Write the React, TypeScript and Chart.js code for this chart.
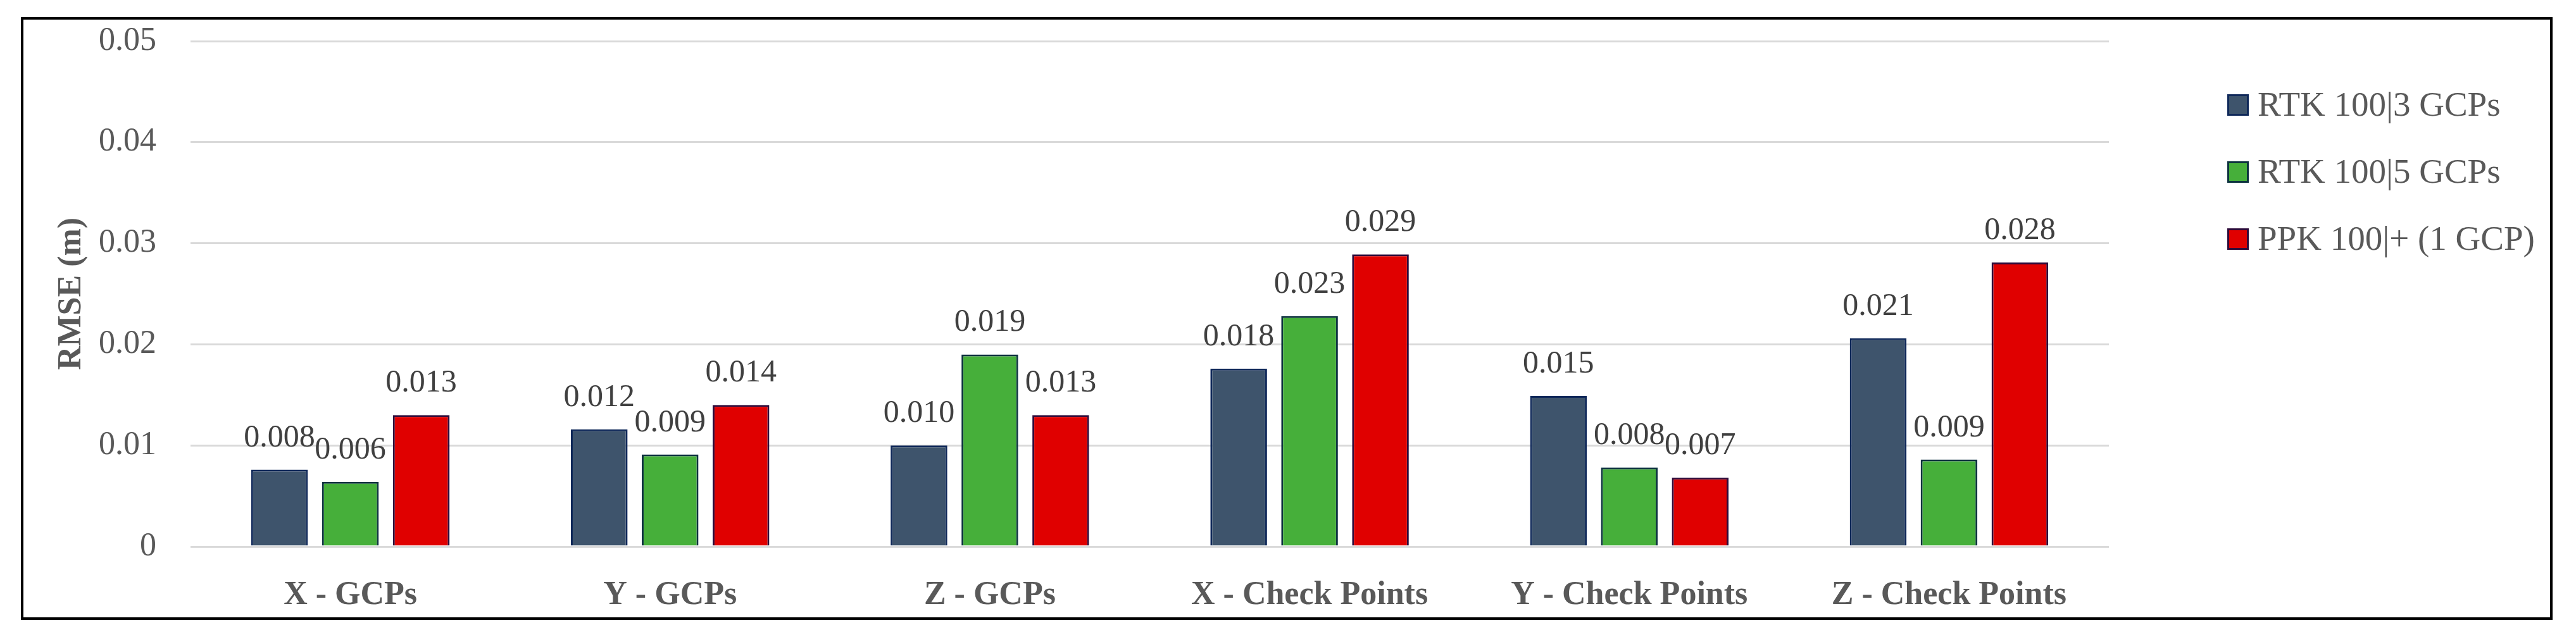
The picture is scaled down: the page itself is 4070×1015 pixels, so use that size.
import React, { useEffect, useRef } from 'react';
import { Chart, registerables } from 'chart.js';

Chart.register(...registerables);

const categories = ['X - GCPs', 'Y - GCPs', 'Z - GCPs', 'X - Check Points', 'Y - Check Points', 'Z - Check Points'];
const seriesNames = ['RTK 100|3 GCPs', 'RTK 100|5 GCPs', 'PPK 100|+ (1 GCP)'];
const rtk3Values = [0.0076, 0.0116, 0.0100, 0.0176, 0.0149, 0.0206];
const rtk5Values = [0.0064, 0.0091, 0.0190, 0.0228, 0.0078, 0.0086];
const ppkValues = [0.0130, 0.0140, 0.0130, 0.0289, 0.0068, 0.0281];
const yTickLabels = ['0', '0.01', '0.02', '0.03', '0.04', '0.05'];
const yAxisTitle = 'RMSE (m)';

const FONT = "'Palatino Linotype', 'Book Antiqua', Palatino, 'Liberation Serif', serif";

const dataLabelPlugin = {
  id: 'dataLabels',
  afterDatasetsDraw(chart: any) {
    const ctx = chart.ctx;
    ctx.save();
    ctx.font = `50px ${FONT}`;
    ctx.fillStyle = '#404040';
    ctx.textAlign = 'center';
    ctx.textBaseline = 'alphabetic';
    chart.data.datasets.forEach((ds: any, i: number) => {
      const meta = chart.getDatasetMeta(i);
      meta.data.forEach((bar: any, j: number) => {
        const v = ds.data[j];
        ctx.fillText(Number(v).toFixed(3), bar.x, bar.y - 37);
      });
    });
    ctx.restore();
  },
};

const legendPlugin = {
  id: 'sideLegend',
  afterDraw(chart: any) {
    const ctx = chart.ctx;
    const area = chart.chartArea;
    const x0 = area.right + 187;
    const box = 34;
    ctx.save();
    ctx.font = `55px ${FONT}`;
    ctx.textAlign = 'left';
    ctx.textBaseline = 'alphabetic';
    chart.data.datasets.forEach((ds: any, i: number) => {
      const cy = area.top + 101 + i * 106;
      ctx.fillStyle = ds.backgroundColor;
      ctx.fillRect(x0, cy - box / 2, box, box);
      ctx.lineWidth = 3;
      ctx.strokeStyle = ds.borderColor;
      ctx.strokeRect(x0 + 1.5, cy - box / 2 + 1.5, box - 3, box - 3);
      ctx.fillStyle = '#595959';
      ctx.fillText(ds.label, x0 + 48, cy + box / 2);
    });
    ctx.restore();
  },
};

export default function App() {
  const canvasRef = useRef<HTMLCanvasElement | null>(null);

  useEffect(() => {
    const canvas = canvasRef.current;
    if (!canvas) return;
    const chart = new Chart(canvas, {
      type: 'bar',
      data: {
        labels: categories,
        datasets: [
          {
            label: seriesNames[0],
            data: rtk3Values,
            backgroundColor: '#3E546C',
            borderColor: '#10295A',
            borderWidth: 3,
          },
          {
            label: seriesNames[1],
            data: rtk5Values,
            backgroundColor: '#46AF3A',
            borderColor: '#0E3340',
            borderWidth: 3,
          },
          {
            label: seriesNames[2],
            data: ppkValues,
            backgroundColor: '#E00000',
            borderColor: '#2E0B3A',
            borderWidth: 3,
          },
        ],
      },
      options: {
        animation: false,
        responsive: true,
        maintainAspectRatio: false,
        datasets: {
          bar: {
            categoryPercentage: 0.665,
            barPercentage: 0.8,
          },
        },
        layout: {
          padding: { left: 60, top: 65, right: 738, bottom: 40 },
        },
        plugins: {
          legend: { display: false },
          tooltip: { enabled: false },
        },
        scales: {
          x: {
            grid: { display: false, drawTicks: false },
            border: { display: false },
            ticks: {
              color: '#595959',
              font: { family: FONT, size: 52, weight: 'bold' },
              padding: 46,
              maxRotation: 0,
              autoSkip: false,
            },
            afterFit: (scale: any) => {
              scale.height = 111;
            },
          },
          y: {
            min: 0,
            max: 0.05,
            grid: { color: '#D9D9D9', lineWidth: 3, drawTicks: false },
            border: { display: false },
            ticks: {
              stepSize: 0.01,
              color: '#595959',
              font: { family: FONT, size: 52 },
              padding: 54,
              callback: (_v: any, i: number) => yTickLabels[i],
            },
            title: {
              display: true,
              text: yAxisTitle,
              color: '#595959',
              font: { family: FONT, size: 52, weight: 'bold' },
              padding: { top: 22, bottom: 0 },
            },
            afterFit: (scale: any) => {
              scale.width = 241;
              scale.paddingTop = 0;
              scale.paddingBottom = 0;
            },
          },
        },
      },
      plugins: [dataLabelPlugin, legendPlugin],
    } as any);
    return () => chart.destroy();
  }, []);

  return (
    <div style={{ position: 'absolute', left: 0, top: 0, width: 4070, height: 1015, background: '#fff' }}>
      <canvas ref={canvasRef} />
      <div
        style={{
          position: 'absolute',
          left: 33,
          top: 27,
          width: 4000,
          height: 953,
          border: '4px solid #000',
          boxSizing: 'border-box',
          pointerEvents: 'none',
        }}
      />
    </div>
  );
}
